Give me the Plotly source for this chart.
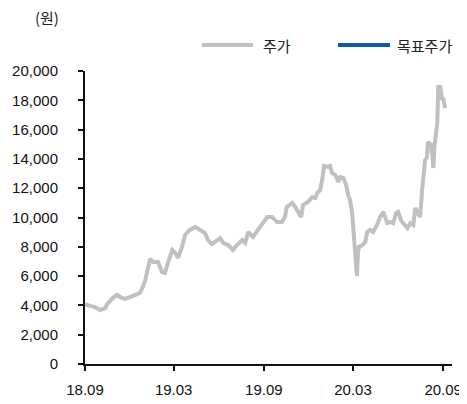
import plotly.graph_objects as go

# ---- data ----
dates = [
    "2018-09-01", "2018-09-05", "2018-09-21", "2018-10-02", "2018-10-12", "2018-10-18", "2018-10-28",
    "2018-11-05", "2018-11-16", "2018-11-22", "2018-12-02", "2018-12-12", "2018-12-22",
    "2018-12-28", "2019-01-02", "2019-01-08", "2019-01-12", "2019-01-18", "2019-01-28",
    "2019-02-05", "2019-02-11", "2019-02-17", "2019-02-26", "2019-03-04", "2019-03-10",
    "2019-03-18", "2019-03-24", "2019-04-03", "2019-04-14", "2019-04-24", "2019-05-04",
    "2019-05-10", "2019-05-18", "2019-05-29", "2019-06-04", "2019-06-10", "2019-06-20",
    "2019-06-30", "2019-07-08", "2019-07-19", "2019-07-25", "2019-07-31", "2019-08-10",
    "2019-08-20", "2019-08-30", "2019-09-08", "2019-09-18", "2019-09-28", "2019-10-08",
    "2019-10-14", "2019-10-18", "2019-10-29", "2019-11-04", "2019-11-10", "2019-11-16",
    "2019-11-20", "2019-11-30", "2019-12-09", "2019-12-15", "2019-12-19", "2019-12-25",
    "2019-12-29", "2020-01-02", "2020-01-08", "2020-01-14", "2020-01-18", "2020-01-25",
    "2020-01-31", "2020-02-04", "2020-02-10", "2020-02-16", "2020-02-20", "2020-02-24",
    "2020-02-28", "2020-03-01", "2020-03-05", "2020-03-07", "2020-03-09", "2020-03-11",
    "2020-03-13", "2020-03-20", "2020-03-26", "2020-03-30", "2020-04-05", "2020-04-11",
    "2020-04-19", "2020-04-25", "2020-05-02", "2020-05-06", "2020-05-10", "2020-05-16",
    "2020-05-22", "2020-05-28", "2020-06-01", "2020-06-07", "2020-06-11", "2020-06-20",
    "2020-06-26", "2020-07-02", "2020-07-06", "2020-07-10", "2020-07-16", "2020-07-20",
    "2020-07-22", "2020-07-26", "2020-07-30", "2020-08-01", "2020-08-08", "2020-08-12",
    "2020-08-14", "2020-08-18", "2020-08-20", "2020-08-22", "2020-08-26", "2020-08-30",
    "2020-09-01", "2020-09-05",
]
price = [
    4100, 4030, 3890, 3690, 3820, 4160, 4500,
    4710, 4500, 4440, 4570, 4710, 4850,
    5260, 5730, 6620, 7170, 6960, 6960,
    6280, 6210, 6890, 7780, 7580, 7240,
    7990, 8810, 9150, 9350, 9150, 8940,
    8460, 8190, 8460, 8600, 8260, 8120,
    7780, 8120, 8460, 8260, 9010, 8670,
    9150, 9620, 10030, 10030, 9690, 9690,
    10030, 10720, 10990, 10720, 10310, 10030,
    10850, 11060, 11400, 11330, 11670, 11880,
    12560, 13520, 13450, 13520, 13040, 12900,
    12420, 12760, 12700, 12220, 11540, 11190,
    10380, 9620, 7990, 6620, 6000, 7580,
    7990, 8120, 8330, 9010, 9150, 9010,
    9490, 10030, 10380, 9970, 9620, 9690,
    9620, 10310, 10380, 9830, 9620, 9280,
    9620, 9490, 10650, 10380, 10030, 11880,
    12900, 13920, 14130, 15150, 14950, 13380,
    14810, 15840, 16450, 18910, 18910, 18020,
    18160, 17470,
]
target_dates = []
target_price = []

x_tick_vals = ["2018-09-01", "2019-03-01", "2019-09-01", "2020-03-01", "2020-09-01"]
x_tick_text = ["18.09", "19.03", "19.09", "20.03", "20.09"]
y_tick_vals = list(range(0, 20001, 2000))
y_tick_text = [f"{v:,}" for v in y_tick_vals]
series_names = ["주가", "목표주가"]
series_colors = ["#c0c0c0", "#0b5ba8"]
unit_label = "(원)"

fig = go.Figure()
fig.add_trace(go.Scatter(x=dates, y=price, mode="lines", name=series_names[0],
                         line=dict(color=series_colors[0], width=4), showlegend=False))
fig.add_trace(go.Scatter(x=target_dates, y=target_price, mode="lines", name=series_names[1],
                         line=dict(color=series_colors[1], width=4), showlegend=False))

# the page body has an 8px default margin: the figure starts at (8, 8) of the window
OFF = 8
W, H = 467 - OFF, 404 - OFF
ml, mr, mt, mb = 85 - OFF, 15, 71 - OFF, 40
pw, ph = W - ml - mr, H - mt - mb
def px(x):  # window pixel -> paper
    return (x - OFF - ml) / pw
def py(y):
    return (H - mb - (y - OFF)) / ph

legend_items = [(202, 253, 261), (338, 390, 395)]
for (x0, x1, tx), name, col in zip(legend_items, series_names, series_colors):
    fig.add_shape(type="line", xref="paper", yref="paper", x0=px(x0), x1=px(x1),
                  y0=py(45), y1=py(45), line=dict(color=col, width=4))
    fig.add_annotation(xref="paper", yref="paper", x=px(tx), y=py(45), text=name,
                       showarrow=False, xanchor="left", yanchor="middle",
                       font=dict(family="Noto Sans CJK KR", size=15, color="#222"))

fig.add_annotation(xref="paper", yref="paper", x=px(33), y=py(18), text=unit_label,
                   showarrow=False, xanchor="left", yanchor="middle",
                   font=dict(family="Noto Sans CJK KR", size=15, color="#222"))

fig.update_layout(
    width=W, height=H,
    margin=dict(l=ml, r=mr, t=mt, b=mb, pad=0, autoexpand=False),
    paper_bgcolor="white", plot_bgcolor="white",
    font=dict(family="Liberation Sans, Arial", size=15, color="#111"),
)
fig.update_xaxes(type="date", range=["2018-09-01", "2020-09-19"],
                 tickvals=x_tick_vals, ticktext=x_tick_text, automargin=False,
                 showgrid=False, zeroline=False, showline=True, linecolor="#111", linewidth=2,
                 ticks="outside", ticklen=5, tickwidth=1.5, tickcolor="#111",
                 ticklabelstandoff=6)
fig.update_yaxes(range=[0, 20000], tickvals=y_tick_vals, ticktext=y_tick_text, automargin=False,
                 showgrid=False, zeroline=False, showline=True, linecolor="#111", linewidth=2,
                 ticks="outside", ticklen=5, tickwidth=1.5, tickcolor="#111",
                 ticklabelstandoff=17)

fig.write_html("out.html")
